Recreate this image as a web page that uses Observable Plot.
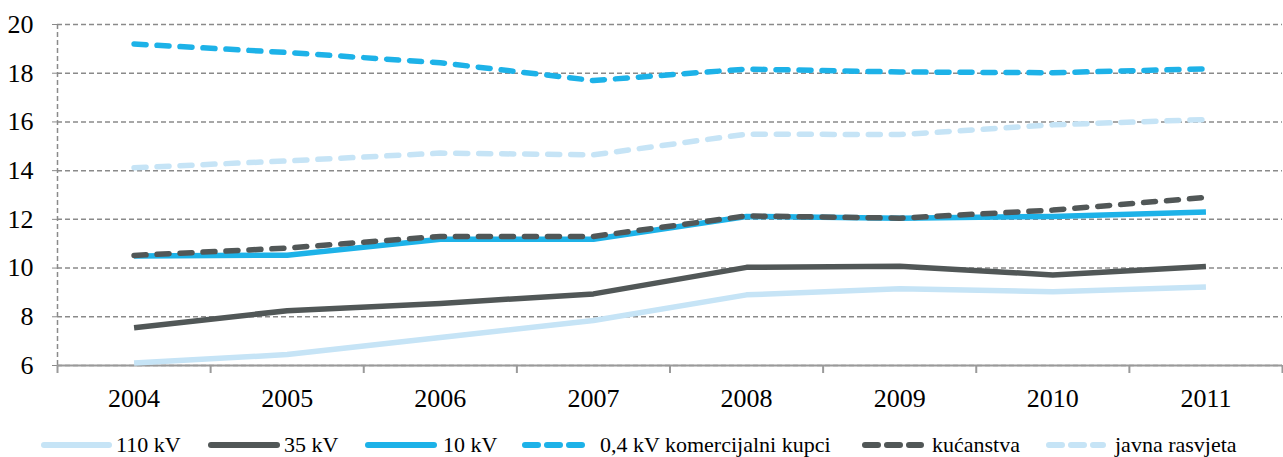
<!DOCTYPE html>
<html>
<head>
<meta charset="utf-8">
<script src="https://cdn.jsdelivr.net/npm/d3@7"></script>
<script src="https://cdn.jsdelivr.net/npm/@observablehq/plot@0.6"></script>
<style>
  body { margin: 0; background: #fff; font-family: "Liberation Serif", "Times New Roman", Times, "DejaVu Serif", serif; }
  #wrap { position: relative; width: 1283px; height: 457px; }
  #legend { position: relative; width: 1283px; height: 37px; }
  .item { position: absolute; top: 0; left: 0; height: 37px; }
  .item svg { position: absolute; top: 0; }
  .item span { position: absolute; top: 14px; font-size: 22px; color: #000; white-space: nowrap; line-height: 22px;
    font-family: "Liberation Serif", "Times New Roman", Times, "DejaVu Serif", serif; }
  svg text { font-family: "Liberation Serif", "Times New Roman", Times, "DejaVu Serif", serif; }
</style>
</head>
<body>
<div id="wrap">
  <div id="chart"></div>
  <div id="legend"></div>
</div>
<script>
const years = [2004, 2005, 2006, 2007, 2008, 2009, 2010, 2011];
const seriesNames = ["110 kV", "35 kV", "10 kV", "0,4 kV komercijalni kupci", "kućanstva", "javna rasvjeta"];
const v110 = [6.1, 6.45, 7.15, 7.85, 8.9, 9.15, 9.03, 9.22];
const v35 = [7.55, 8.25, 8.55, 8.94, 10.03, 10.07, 9.72, 10.06];
const v10 = [10.5, 10.53, 11.18, 11.18, 12.12, 12.05, 12.12, 12.3];
const v04 = [19.2, 18.85, 18.43, 17.7, 18.17, 18.05, 18.02, 18.18];
const vKuc = [10.52, 10.82, 11.3, 11.3, 12.14, 12.05, 12.38, 12.9];
const vJav = [14.12, 14.4, 14.72, 14.65, 15.5, 15.48, 15.88, 16.1];
const yTicks = [6, 8, 10, 12, 14, 16, 18, 20];
const bandEdges = [2003.5, 2004.5, 2005.5, 2006.5, 2007.5, 2008.5, 2009.5, 2010.5, 2011.5];

const colors = ["#c6e4f6", "#515757", "#1db2e8", "#1db2e8", "#515757", "#c6e4f6"];
const dashes = [null, null, null, "12,11", "12,11", "12,11"];
const values = [v110, v35, v10, v04, vKuc, vJav];
const serif = "'Liberation Serif', 'Times New Roman', Times, serif";

const lineMarks = values.map((vals, i) => {
  const data = years.map((y, j) => ({year: y, value: vals[j], series: seriesNames[i]}));
  return Plot.line(data, {
    x: "year", y: "value",
    stroke: colors[i], strokeWidth: 5.5,
    strokeDasharray: dashes[i] || undefined,
    strokeLinecap: dashes[i] ? "round" : "butt",
    strokeLinejoin: "round"
  });
});

const chart = Plot.plot({
  width: 1283,
  height: 420,
  marginLeft: 57,
  marginRight: 1,
  marginTop: 24,
  marginBottom: 55,
  style: {fontFamily: serif, fontSize: "26px", color: "#000", background: "#fff"},
  x: {type: "linear", domain: [2003.5, 2011.5]},
  y: {domain: [6, 20]},
  marks: [
    Plot.gridY(yTicks, {stroke: "#8a8a8a", strokeOpacity: 1, strokeDasharray: "5,3", strokeWidth: 1.5}),
    Plot.ruleX([2003.5], {stroke: "#8a8a8a", strokeDasharray: "5,3", strokeWidth: 1.5}),
    Plot.ruleY([6], {stroke: "#9a9a9a", strokeWidth: 2}),
    Plot.axisY({ticks: yTicks, tickSize: 8, tickPadding: 16, stroke: "#8a8a8a", strokeDasharray: "5,3", tickFormat: d => String(d), label: null, fontSize: 26, fontFamily: serif}),
    Plot.axisX({ticks: bandEdges, tickSize: 8, stroke: "#9a9a9a", strokeWidth: 2, tickFormat: () => "", label: null}),
    Plot.axisX({ticks: years, tickSize: 0, tickPadding: 23, tickFormat: d => String(d), label: null, fontSize: 26, fontFamily: serif}),
    ...lineMarks
  ]
});
document.getElementById("chart").appendChild(chart);

// Legend
const legendPos = [
  {sx: 41, sw: 71, tx: 116},
  {sx: 208, sw: 72, tx: 284},
  {sx: 365, sw: 72, tx: 443},
  {sx: 522, sw: 64, tx: 600},
  {sx: 862, sw: 62, tx: 932},
  {sx: 1046, sw: 60, tx: 1115}
];
const legend = document.getElementById("legend");
const ns = "http://www.w3.org/2000/svg";
seriesNames.forEach((name, i) => {
  const p = legendPos[i];
  const item = document.createElement("div");
  item.className = "item";
  const svg = document.createElementNS(ns, "svg");
  svg.setAttribute("width", p.sw + 10);
  svg.setAttribute("height", 37);
  svg.style.left = (p.sx - 3) + "px";
  const ln = document.createElementNS(ns, "line");
  ln.setAttribute("x1", 3 + 3);
  ln.setAttribute("x2", 3 + p.sw - 3);
  ln.setAttribute("y1", 25);
  ln.setAttribute("y2", 25);
  ln.setAttribute("stroke", colors[i]);
  ln.setAttribute("stroke-width", 6);
  ln.setAttribute("stroke-linecap", "round");
  if (dashes[i]) ln.setAttribute("stroke-dasharray", "13,9");
  svg.appendChild(ln);
  item.appendChild(svg);
  const sp = document.createElement("span");
  sp.textContent = name;
  sp.style.left = p.tx + "px";
  item.appendChild(sp);
  legend.appendChild(item);
});
</script>
</body>
</html>
